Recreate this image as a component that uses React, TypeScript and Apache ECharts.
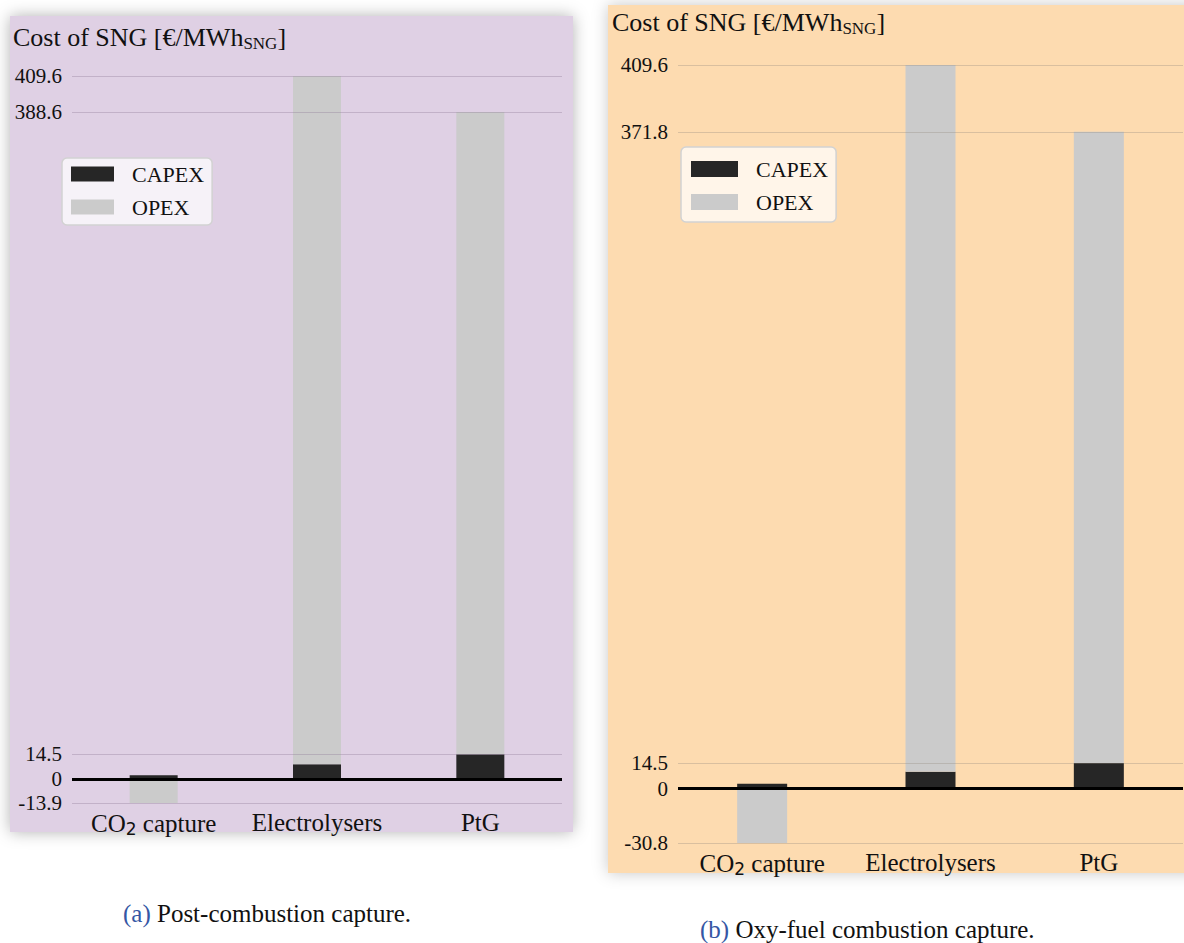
import React, { useEffect, useRef } from "react";
import * as echarts from "echarts";

const categories = ["CO2 capture", "Electrolysers", "PtG"];
const postCapex = [2.3, 8.7, 14.5];
const postOpex = [-13.9, 400.9, 374.1];
const oxyCapex = [2.8, 9.6, 14.5];
const oxyOpex = [-30.8, 400.0, 357.3];
const postTicks = [-13.9, 0, 14.5, 388.6, 409.6];
const oxyTicks = [-30.8, 0, 14.5, 371.8, 409.6];
const seriesNames = ["CAPEX", "OPEX"];

const FONT = "Liberation Serif";
const CAPEX_COLOR = "#262626";
const OPEX_COLOR = "#cbcbcb";

function catLabel(v: string) {
  if (v === "CO2 capture") return "{a|CO}{b|2}{a| capture}";
  return "{a|" + v + "}";
}

const catRich = {
  a: { fontFamily: FONT, fontSize: 25, color: "#111" },
  b: { fontFamily: "DejaVu Sans", fontSize: 17, color: "#111", padding: [10, 0, 0, 0] },
};

function fmtTick(v: number) {
  return v === 0 ? "0" : v.toFixed(1);
}

export default function App() {
  const ref = useRef<HTMLDivElement>(null);
  useEffect(() => {
    document.body.style.margin = "0";
    if (!ref.current) return;
    const chart = echarts.init(ref.current, null, { renderer: "svg" });

    const mkX = (gi: number) => ({
      type: "category",
      gridIndex: gi,
      data: categories,
      axisLine: { show: false },
      axisTick: { show: false },
      axisLabel: { formatter: catLabel, rich: catRich, margin: 7 },
    });
    const mkY = (gi: number, min: number, ticks: number[]) => ({
      type: "value",
      gridIndex: gi,
      min,
      max: 409.6,
      axisLine: { show: false },
      axisTick: { show: false },
      splitLine: { show: false },
      axisLabel: {
        customValues: ticks,
        formatter: (v: number) => fmtTick(v),
        fontFamily: FONT,
        fontSize: 21,
        color: "#111",
        margin: 10,
        showMinLabel: true,
        showMaxLabel: true,
      },
    });

    const mkSeries = (gi: number, capex: number[], opex: number[], ticks: number[], gridColor: string, bw: number) => [
      {
        name: "_grid" + gi,
        type: "line",
        xAxisIndex: gi,
        yAxisIndex: gi,
        data: [],
        z: 1,
        silent: true,
        markLine: {
          silent: true,
          symbol: "none",
          label: { show: false },
          lineStyle: { color: gridColor, width: 1.2, type: "solid" },
          data: ticks.filter((t) => t !== 0).map((t) => ({ yAxis: t })),
        },
      },
      {
        name: seriesNames[0],
        type: "bar",
        xAxisIndex: gi,
        yAxisIndex: gi,
        stack: "s" + gi,
        barWidth: bw,
        itemStyle: { color: CAPEX_COLOR },
        data: capex,
        z: 2,
      },
      {
        name: seriesNames[1],
        type: "bar",
        xAxisIndex: gi,
        yAxisIndex: gi,
        stack: "s" + gi,
        barWidth: bw,
        itemStyle: { color: OPEX_COLOR },
        data: opex,
        z: 2,
      },
      {
        name: "_zero" + gi,
        type: "line",
        xAxisIndex: gi,
        yAxisIndex: gi,
        data: [],
        z: 5,
        silent: true,
        markLine: {
          silent: true,
          symbol: "none",
          label: { show: false },
          lineStyle: { color: "#000", width: 2.8, type: "solid" },
          data: [{ yAxis: 0 }],
        },
      },
    ];

    const legendCommon = {
      orient: "vertical",
      data: seriesNames,
      icon: "rect",
      itemHeight: 15,
      itemGap: 11,
      backgroundColor: "rgba(255,255,255,0.72)",
      borderColor: "#d2d2d2",
      borderWidth: 1.5,
      borderRadius: 5,
      selectedMode: false,
      textStyle: { fontFamily: FONT, fontSize: 22, color: "#111", padding: [0, 0, 0, 13] },
    };

    const titleRich = {
      a: { fontFamily: FONT, fontSize: 26, fill: "#111" },
      s: { fontFamily: FONT, fontSize: 17, fill: "#111", padding: [12, 0, 0, 0] },
    };

    chart.setOption({
      animation: false,
      grid: [
        { left: 72, top: 76, width: 490, height: 727 },
        { left: 678, top: 65, width: 505, height: 778 },
      ],
      xAxis: [mkX(0), mkX(1)],
      yAxis: [mkY(0, -13.9, postTicks), mkY(1, -30.8, oxyTicks)],
      legend: [
        { ...legendCommon, left: 62, top: 158, itemWidth: 43, padding: [5, 8, 7, 9] },
        { ...legendCommon, left: 681, top: 147, itemWidth: 47, itemHeight: 16, padding: [11, 8, 9, 10] },
      ],
      series: [
        ...mkSeries(0, postCapex, postOpex, postTicks, "rgba(140,120,150,0.35)", 48),
        ...mkSeries(1, oxyCapex, oxyOpex, oxyTicks, "rgba(150,140,130,0.35)", 50),
      ],
      graphic: [
        {
          type: "rect",
          z: -10,
          silent: true,
          shape: { x: 10, y: 16, width: 563, height: 816 },
          style: { fill: "#dfd0e4", shadowBlur: 16, shadowColor: "rgba(0,0,0,0.3)" },
        },
        {
          type: "rect",
          z: -10,
          silent: true,
          shape: { x: 608, y: 5, width: 600, height: 868 },
          style: { fill: "#fddbb0", shadowBlur: 16, shadowColor: "rgba(0,0,0,0.22)" },
        },
        {
          type: "text",
          x: 13,
          y: 37,
          style: { text: "{a|Cost of SNG [€/MWh}{s|SNG}{a|]}", rich: titleRich, verticalAlign: "middle" },
        },
        {
          type: "text",
          x: 612,
          y: 22,
          style: { text: "{a|Cost of SNG [€/MWh}{s|SNG}{a|]}", rich: titleRich, verticalAlign: "middle" },
        },
        {
          type: "text",
          x: 123,
          y: 913,
          style: {
            text: "{b|(a)} {a|Post-combustion capture.}",
            verticalAlign: "middle",
            rich: {
              a: { fontFamily: FONT, fontSize: 25, fill: "#111" },
              b: { fontFamily: FONT, fontSize: 25, fill: "#3556a4" },
            },
            fontFamily: FONT,
            fontSize: 25,
          },
        },
        {
          type: "text",
          x: 700,
          y: 929,
          style: {
            text: "{b|(b)} {a|Oxy-fuel combustion capture.}",
            verticalAlign: "middle",
            rich: {
              a: { fontFamily: FONT, fontSize: 25, fill: "#111" },
              b: { fontFamily: FONT, fontSize: 25, fill: "#3556a4" },
            },
            fontFamily: FONT,
            fontSize: 25,
          },
        },
      ],
    });
    return () => chart.dispose();
  }, []);
  return <div ref={ref} style={{ width: 1184, height: 943 }} />;
}
